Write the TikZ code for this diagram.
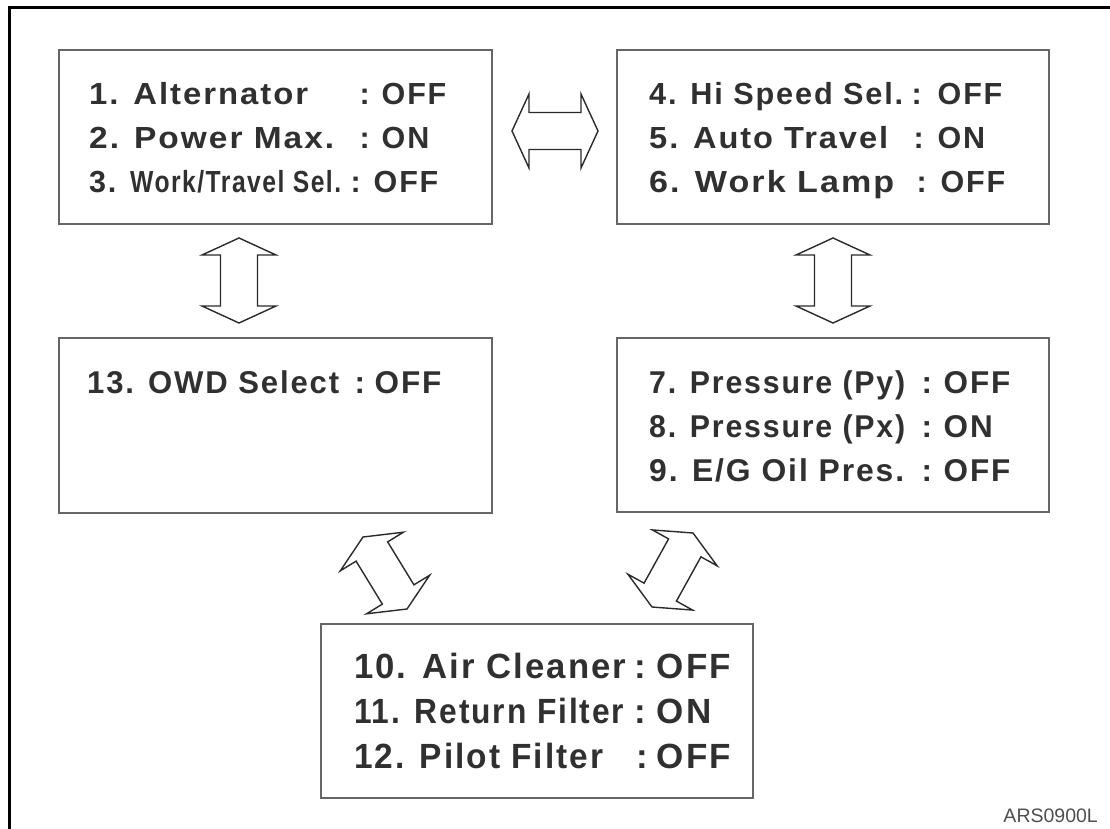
\documentclass[tikz,border=0pt]{standalone}
\usepackage{fontspec}
\usepackage{graphicx}
\setmainfont{Liberation Sans}
\newfontfamily\boxfont[LetterSpace=6]{Liberation Sans}
\usetikzlibrary{calc}
\definecolor{textgray}{HTML}{303030}
\definecolor{boxgray}{HTML}{666666}
\definecolor{arrowgray}{HTML}{2A2A2A}
\tikzset{
  panel/.style={draw=boxgray, line width=1.3pt, inner sep=0pt},
  txt/.style={anchor=base west, inner sep=0pt, text=textgray, font=\boxfont\bfseries\fontsize{30.5}{34}\selectfont},
  txtm/.style={txt, font=\boxfont\bfseries\fontsize{31.5}{34}\selectfont},
  txtl/.style={txt, font=\boxfont\bfseries\fontsize{35}{40}\selectfont},
  arrowline/.style={draw=arrowgray, line width=1.4pt, line join=miter},
  codetxt/.style={anchor=base east, inner sep=0pt, text=textgray!85, font=\fontsize{19.5}{22}\selectfont},
}
% #1 colon offset, #2 label width, #3 label, #4 value offset, #5 value
\newcommand\entry[5]{\makebox[#1pt][l]{\resizebox{#2pt}{\height}{#3}}\makebox[\dimexpr#4pt-#1pt\relax][l]{:}#5}
\newcommand\dblarrow[2]{%
  \path (#1) coordinate (da) (#2) coordinate (db);
  \path ($(da)!17pt!(db)$) coordinate (ha) ($(db)!17pt!(da)$) coordinate (hb);
  \draw[arrowline] (da) -- ($(ha)!37pt!90:(db)$) -- ($(ha)!18.5pt!90:(db)$)
    -- ($(hb)!18.5pt!-90:(da)$) -- ($(hb)!37pt!-90:(da)$) -- (db)
    -- ($(hb)!37pt!90:(da)$) -- ($(hb)!18.5pt!90:(da)$)
    -- ($(ha)!18.5pt!-90:(db)$) -- ($(ha)!37pt!-90:(db)$) -- cycle;}
\begin{document}
\begin{tikzpicture}[x=1pt,y=-1pt]
\useasboundingbox (0,0) rectangle (1110,829);
% outer frame (only top and left visible)
\draw[line width=3pt] (9,829) -- (9,8) -- (1110,8);
% panels
\node[panel, minimum width=433pt, minimum height=174pt] (b1) at (275.5,137) {};
\node[panel, minimum width=432pt, minimum height=174pt] (b2) at (833,137) {};
\node[panel, minimum width=433pt, minimum height=175pt] (b13) at (275.5,425.5) {};
\node[panel, minimum width=432pt, minimum height=174pt] (b7) at (833,425) {};
\node[panel, minimum width=432pt, minimum height=174pt] (b10) at (537,711) {};
% box 1
\node[txt] (t1) at (89,105) {\entry{270.5}{219}{1. Alternator}{292.5}{OFF}};
\node[txt] (t2) at (89,149) {\entry{270.5}{245}{2. Power Max.}{292.5}{ON}};
\node[txt] (t3) at (89,193) {\makebox[261.5pt][l]{3. \resizebox{211pt}{\height}{Work/Travel Sel.}}\makebox[23pt][l]{:}OFF};
% box 2
\node[txt] (t4) at (649,105) {\entry{262.5}{254}{4. Hi Speed Sel.}{288.5}{OFF}};
\node[txt] (t5) at (649,149) {\entry{264.5}{239}{5. Auto Travel}{288.5}{ON}};
\node[txt] (t6) at (649,193) {\entry{267.5}{245}{6. Work Lamp}{291.5}{OFF}};
% box 13
\node[txtm] (t13) at (87,393) {\entry{267.5}{252}{13. OWD Select}{287.5}{OFF}};
% box 7
\node[txtm] (t7) at (649,393) {\entry{272.5}{256}{7. Pressure (Py)}{294.5}{OFF}};
\node[txtm] (t8) at (649,437) {\entry{272.5}{256}{8. Pressure (Px)}{294.5}{ON}};
\node[txtm] (t9) at (649,481) {\entry{272.5}{255}{9. E/G Oil Pres.}{294.5}{OFF}};
% box 10
\node[txtl] (t10) at (354,678) {\entry{280.5}{272}{10. Air Cleaner}{302.5}{OFF}};
\node[txtl] (t11) at (354,723) {\entry{280.5}{270}{11. Return Filter}{302.5}{ON}};
\node[txtl] (t12) at (354,768) {\entry{282}{249}{12. Pilot Filter}{302.5}{OFF}};
% arrow end points
\coordinate (h1) at (512,131); \coordinate (h2) at (598,131);
\coordinate (lv1) at (239,238); \coordinate (lv2) at (239,323);
\coordinate (rv1) at (833,238); \coordinate (rv2) at (833,323);
\coordinate (ld1) at (363,537); \coordinate (ld2) at (407,609);
\coordinate (rd1) at (693,533); \coordinate (rd2) at (652,607);
\dblarrow{h1}{h2}
\dblarrow{lv1}{lv2}
\dblarrow{rv1}{rv2}
\dblarrow{ld1}{ld2}
\dblarrow{rd1}{rd2}
\node[codetxt] (code) at (1098,822) {ARS0900L};
\end{tikzpicture}
\end{document}
